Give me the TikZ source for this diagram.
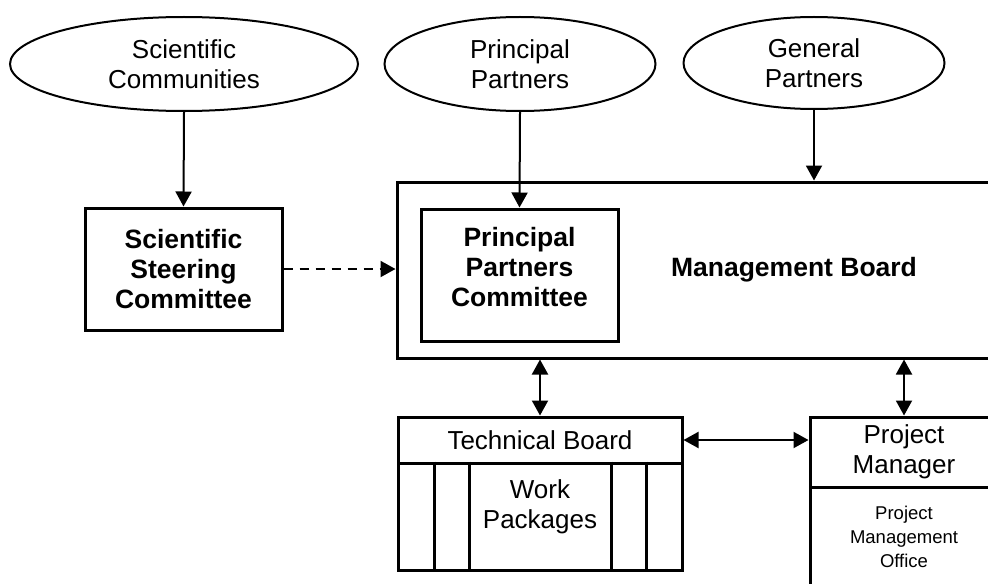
\documentclass[tikz,border=0pt]{standalone}
\usepackage{fontspec}
\setmainfont{Liberation Sans}
\usetikzlibrary{positioning}
\usetikzlibrary{arrows.meta}
\usetikzlibrary{shapes}
\tikzset{
        treenode/.style={align=center,inner sep=0pt,font=\fontsize{13}{15}\selectfont},
        % Outside groups
        node_group/.style={treenode, ellipse, draw=black, line width=1pt},
        % Bold names
        node_bold/.style={treenode, font=\fontsize{13.25}{15}\selectfont\bfseries},
        % Bodies with bold names
        node_body/.style={node_bold, rectangle, draw=black, line width=1.5pt},
        % Plain boxes
        node_frame/.style={treenode, rectangle, draw=black, line width=1.5pt},
        % Small print
        node_small/.style={node_frame, font=\fontsize{9.25}{12}\selectfont}
}
\begin{document}
\begin{tikzpicture}[
            x=0.5pt, y=-0.5pt,
            link/.style={line width=1pt, -{Triangle[length=7.5pt,width=8pt]}},
            both/.style={line width=1pt, {Triangle[length=7.5pt,width=8pt]}-{Triangle[length=7.5pt,width=8pt]}}
        ]
            \useasboundingbox (0,0) rectangle (988,583);
            % the three groups on top
            \node[node_group, minimum width=174pt, minimum height=47pt] (sci) at (184,64) {Scientific\\Communities};
            \node[node_group, minimum width=135.5pt, minimum height=47pt] (pp) at (520,64) {Principal\\Partners};
            \node[node_group, minimum width=130.5pt, minimum height=46pt] (gp) at (814,63) {General\\Partners};
            % boards
            \node[node_body, minimum width=98.5pt, minimum height=61pt] (ssc) at (183.5,269) {Scientific\\Steering\\Committee};
            \node[node_frame, minimum width=299pt, minimum height=88pt] (mb) at (696,270) {};
            \node[node_bold] (mbtext) at (794,270) {Management Board};
            \node[node_frame, minimum width=98.5pt, minimum height=66pt] (ppc) at (519.5,275) {};
            \node[node_bold] (ppctext) at (519.5,267) {Principal\\Partners\\Committee};
            \node[node_frame, minimum width=142pt, minimum height=23pt] (tb) at (540,440) {Technical Board};
            \node[node_frame, minimum width=142pt, minimum height=53.5pt] (tbbody) at (540,516.5) {};
            \node[treenode] (wp) at (540,507) {Work\\Packages};
            \foreach \cx in {434,469,611,646}
                \draw[line width=1.5pt] (\cx,0 |- tbbody.north) -- (\cx,0 |- tbbody.south);
            \node[node_frame, minimum width=94pt, minimum height=35pt] (pm) at (904,452) {Project\\Manager};
            \node[node_small, minimum width=94pt, minimum height=50pt] (pmo) at (904,537) {Project\\Management\\Office};
            % connectors
            \draw[link] (sci.south) -- (ssc.north);
            \draw[link] (pp.south) -- (ppc.north);
            \draw[link] (gp.south) -- (gp.south |- mb.north);
            \draw[link, dash pattern=on 4.5pt off 3.5pt] (ssc.east) -- (ssc.east -| mb.west);
            \draw[both] (tb.north |- mb.south) -- (tb.north);
            \draw[both] (pm.north |- mb.south) -- (pm.north);
            \draw[both] (tb.east) -- (pm.west |- tb.east);
        \end{tikzpicture}
\end{document}
